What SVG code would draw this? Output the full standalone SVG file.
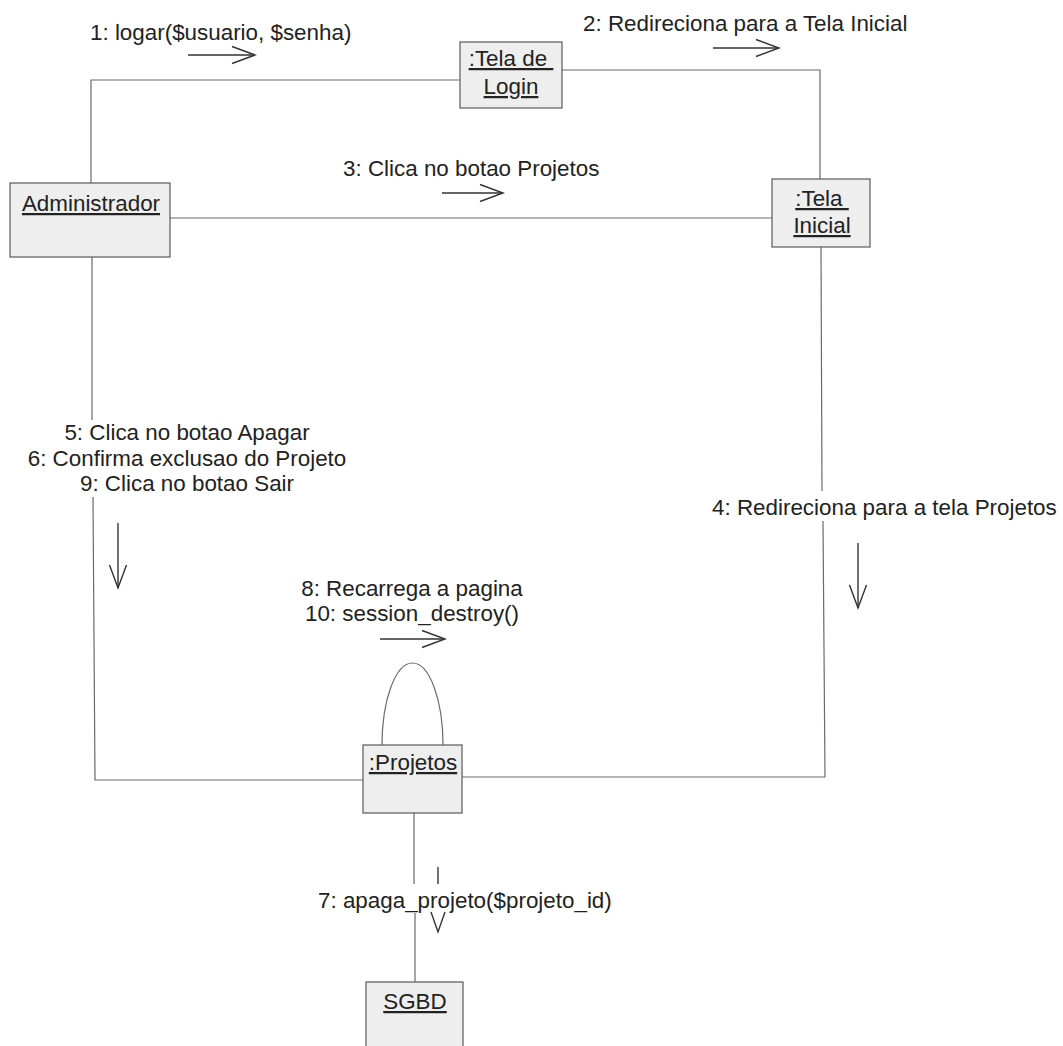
<svg xmlns="http://www.w3.org/2000/svg" width="1063" height="1046" viewBox="0 0 1063 1046">
<defs>
<style>
.box{fill:#eeeeee;stroke:#5a5a5a;stroke-width:1.2}
.ln{fill:none;stroke:#6a6a6a;stroke-width:1.2}
.ar{fill:none;stroke:#333;stroke-width:1.4}
.t{font-family:"Liberation Sans",Arial,sans-serif;font-size:22.4px;fill:#222;white-space:pre}
.u{text-decoration:underline}
.c{text-anchor:middle}
</style>
<marker id="open" viewBox="-25 -11 28 22" refX="0" refY="0" markerWidth="28" markerHeight="22" markerUnits="userSpaceOnUse" orient="auto">
<path d="M-23,-8.5 L0,0 L-23,8.5" fill="none" stroke="#333" stroke-width="1.4"/>
</marker>
</defs>
<rect width="1063" height="1046" fill="#fff"/>
<g id="connectors">
<polyline class="ln" points="91,183 91,80 460,80"/>
<polyline class="ln" points="562,70 820,70 820,179"/>
<line class="ln" x1="170" y1="218" x2="772" y2="218"/>
<line class="ln" x1="821" y1="247" x2="822" y2="491"/>
<polyline class="ln" points="823,521 825,777 462,777"/>
<line class="ln" x1="92" y1="257" x2="92" y2="420"/>
<polyline class="ln" points="93,497 95,780 363,780"/>
<path class="ln" d="M382,745 A30.5,82 0 0 1 443,745"/>
<line class="ln" x1="414" y1="813" x2="414" y2="884"/>
<line class="ln" x1="415" y1="913" x2="415" y2="982"/>
<line class="ar" x1="188" y1="55" x2="255" y2="55" marker-end="url(#open)"/>
<line class="ar" x1="713" y1="48" x2="779" y2="48" marker-end="url(#open)"/>
<line class="ar" x1="442" y1="193" x2="503" y2="193" marker-end="url(#open)"/>
<line class="ar" x1="858" y1="543" x2="858" y2="608" marker-end="url(#open)"/>
<line class="ar" x1="118" y1="523" x2="118" y2="588" marker-end="url(#open)"/>
<line class="ar" x1="380" y1="639" x2="445" y2="639" marker-end="url(#open)"/>
<line class="ar" x1="438" y1="867" x2="438" y2="884"/>
<path class="ar" d="M431,912 L438,932 L445,912"/>
<text class="t" x="90" y="40">1: logar($usuario, $senha)</text>
<text class="t" x="583" y="31">2: Redireciona para a Tela Inicial</text>
<text class="t" x="343" y="176">3: Clica no botao Projetos</text>
<text class="t" x="712" y="515">4: Redireciona para a tela Projetos</text>
<text class="t c" x="187" y="440">5: Clica no botao Apagar</text>
<text class="t c" x="187" y="466">6: Confirma exclusao do Projeto</text>
<text class="t c" x="187" y="491">9: Clica no botao Sair</text>
<text class="t c" x="412" y="596">8: Recarrega a pagina</text>
<text class="t c" x="412" y="621">10: session_destroy()</text>
<text class="t" x="318" y="908">7: apaga_projeto($projeto_id)</text>
</g>
<g id="node-tela-login">
<rect class="box" x="460" y="42" width="102" height="66"/>
<text class="t c u" x="511" y="66">:Tela de </text>
<text class="t c u" x="511" y="94">Login</text>
</g>
<g id="node-administrador">
<rect class="box" x="10" y="183" width="160" height="74"/>
<text class="t c u" x="91" y="211">Administrador</text>
</g>
<g id="node-tela-inicial">
<rect class="box" x="772" y="179" width="98" height="68"/>
<text class="t c u" x="822" y="206">:Tela </text>
<text class="t c u" x="822" y="233">Inicial</text>
</g>
<g id="node-projetos">
<rect class="box" x="363" y="745" width="99" height="68"/>
<text class="t c u" x="413" y="770">:Projetos</text>
</g>
<g id="node-sgbd">
<rect class="box" x="366" y="982" width="97" height="80"/>
<text class="t c u" x="415" y="1009">SGBD</text>
</g>
</svg>
